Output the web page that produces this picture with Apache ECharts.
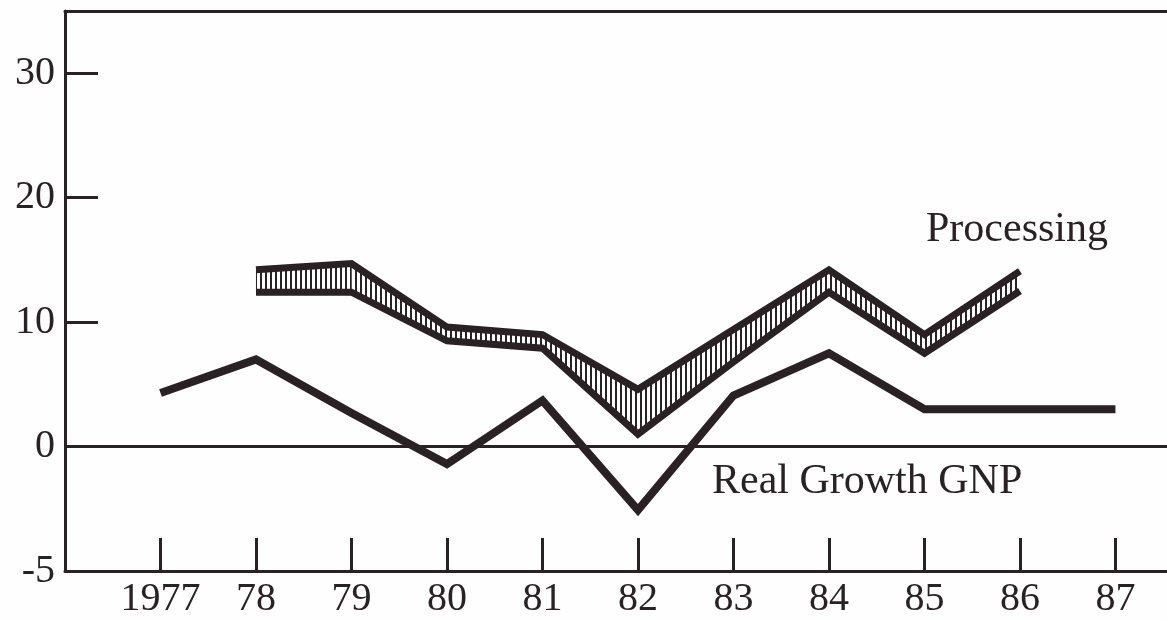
<!DOCTYPE html>
<html>
<head>
<meta charset="utf-8">
<script src="https://cdn.jsdelivr.net/npm/echarts@6/dist/echarts.min.js"></script>
<style>
html,body{margin:0;padding:0;background:#fefefe;}
#chart{width:1167px;height:621px;}
</style>
</head>
<body>
<div id="chart"></div>
<script>
// ---- data ----
const years = [1977, 1978, 1979, 1980, 1981, 1982, 1983, 1984, 1985, 1986, 1987];
const xTickLabels = ['1977', '78', '79', '80', '81', '82', '83', '84', '85', '86', '87'];
const gnpGrowth = [4.3, 7.0, 2.7, -1.4, 3.7, -5.1, 4.1, 7.5, 3.0, 3.0, 3.0];

const procYears = [1978, 1979, 1980, 1981, 1982, 1983, 1984, 1985, 1986];
const procUpper = [14.2, 14.7, 9.6, 9.0, 4.6, 9.4, 14.2, 9.0, 14.1];
const procLower = [12.4, 12.4, 8.5, 7.9, 1.0, 6.8, 12.4, 7.5, 12.5];

const yTickValues = [10, 20, 30];
const yLabelValues = [-10, 0, 10, 20, 30];
const yLabelText = {'-10': '-5', '0': '0', '10': '10', '20': '20', '30': '30'};

const seriesNames = {gnp: 'Real Growth GNP', proc: 'Processing'};

// ---- styling ----
const INK = '#2a2124';
const FONT = "'Liberation Serif', 'Times New Roman', serif";

const pc = document.createElement('canvas');
pc.width = 5; pc.height = 4;
const pctx = pc.getContext('2d');
pctx.fillStyle = '#ffffff'; pctx.fillRect(0, 0, 5, 4);
pctx.fillStyle = INK; pctx.fillRect(0, 0, 2, 4);

const pair = (xs, ys) => xs.map((x, i) => [x, ys[i]]);
// band segments between consecutive processing years
const bandSegments = procYears.slice(0, -1).map((y, i) => [
  y, procLower[i], procUpper[i], procYears[i + 1], procLower[i + 1], procUpper[i + 1]
]);

const chart = echarts.init(document.getElementById('chart'), null, {renderer: 'canvas'});

const xLabelMap = {};
years.forEach((y, i) => { xLabelMap[y] = xTickLabels[i]; });

chart.setOption({
  animation: false,
  backgroundColor: '#fefefe',
  grid: {left: 65, right: 0, top: 11, bottom: 50},
  xAxis: [{
    type: 'value', min: 1976, max: 1987.54, interval: 1,
    splitLine: {show: false},
    axisLine: {show: true, onZero: false, lineStyle: {color: INK, width: 3}},
    axisTick: {show: true, inside: true, length: 33, customValues: years,
               lineStyle: {color: INK, width: 3}},
    axisLabel: {show: true, customValues: years, margin: 8,
                color: INK, fontSize: 40, fontFamily: FONT,
                formatter: v => xLabelMap[v] || ''}
  }, {
    type: 'value', position: 'top', min: 1976, max: 1987.54,
    splitLine: {show: false},
    axisLine: {show: true, onZero: false, lineStyle: {color: INK, width: 3}},
    axisTick: {show: false}, axisLabel: {show: false}
  }],
  yAxis: {
    type: 'value', min: -10, max: 35, interval: 10,
    splitLine: {show: false},
    axisLine: {show: true, onZero: false, lineStyle: {color: INK, width: 3}},
    axisTick: {show: true, inside: true, length: 33, customValues: yTickValues,
               lineStyle: {color: INK, width: 3}},
    axisLabel: {show: true, customValues: yLabelValues, margin: 10,
                color: INK, fontSize: 40, fontFamily: FONT,
                formatter: v => yLabelText[String(v)] || ''}
  },
  series: [
    {
      name: 'procHatch', type: 'custom', silent: true, z: 1,
      data: bandSegments,
      encode: {x: [0, 3], y: [1, 2, 4, 5]},
      renderItem: (params, api) => {
        const p0l = api.coord([api.value(0), api.value(1)]);
        const p0u = api.coord([api.value(0), api.value(2)]);
        const p1l = api.coord([api.value(3), api.value(4)]);
        const p1u = api.coord([api.value(3), api.value(5)]);
        return {
          type: 'polygon',
          shape: {points: [p0u, p1u, p1l, p0l]},
          style: {fill: {image: pc, repeat: 'repeat'}, stroke: null}
        };
      }
    },
    {
      name: seriesNames.proc + ' upper', type: 'line', data: pair(procYears, procUpper),
      symbol: 'none', lineStyle: {color: INK, width: 7, join: 'miter'}, z: 3
    },
    {
      name: seriesNames.proc + ' lower', type: 'line', data: pair(procYears, procLower),
      symbol: 'none', lineStyle: {color: INK, width: 7, join: 'miter'}, z: 3
    },
    {
      name: seriesNames.gnp, type: 'line', data: pair(years, gnpGrowth),
      symbol: 'none', lineStyle: {color: INK, width: 8, join: 'miter'}, z: 4,
      markLine: {
        silent: true, symbol: 'none', label: {show: false},
        lineStyle: {color: INK, width: 3, type: 'solid'},
        data: [{yAxis: 0}]
      }
    }
  ],
  graphic: [
    {type: 'text', left: 926, top: 209,
     style: {text: seriesNames.proc, fill: INK, font: "42px " + FONT}},
    {type: 'text', left: 712, top: 461,
     style: {text: seriesNames.gnp, fill: INK, font: "42px " + FONT}}
  ]
});
</script>
</body>
</html>
